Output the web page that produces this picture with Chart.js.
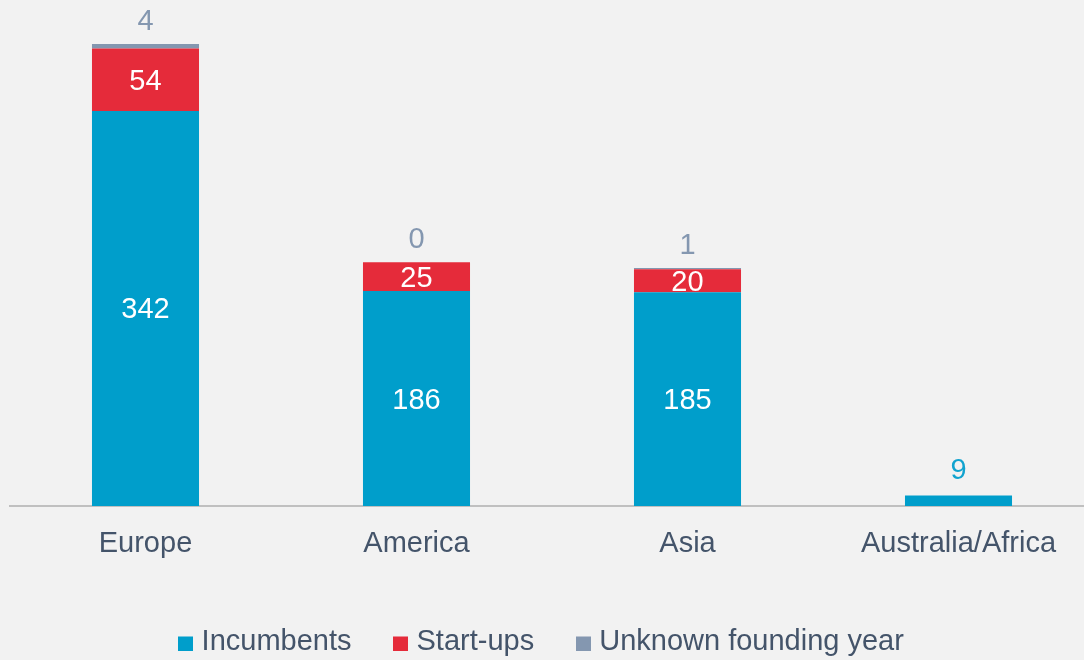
<!DOCTYPE html>
<html>
<head>
<meta charset="utf-8">
<title>Founders by region</title>
<script src="https://cdn.jsdelivr.net/npm/chart.js@4"></script>
<style>
  html, body { margin: 0; padding: 0; background: #f2f2f2; overflow: hidden; }
  /* canvas is a bit wider than the window so the plot runs to the edge */
  #wrap { position: absolute; left: -6px; top: 0; width: 1100px; height: 666px; }
</style>
</head>
<body>
<div id="wrap"><canvas id="chart" width="1100" height="666"></canvas></div>
<script>
// ── data ─────────────────────────────────────────────
var regions = ['Europe', 'America', 'Asia', 'Australia/Africa'];
var incumbents = [342, 186, 185, 9];
var startups = [54, 25, 20, null];
var unknownYear = [4, 0, 1, null];

var FONT = '"Liberation Sans", Arial, sans-serif';
var TEXT = '#44546a';

// small square legend swatch, sitting a little low like a bullet
function swatch(color) {
  var c = document.createElement('canvas');
  c.width = 15;
  c.height = 18;
  var g = c.getContext('2d');
  g.fillStyle = color;
  g.fillRect(0, 4, 15, 14);
  return c;
}

// value labels: white inside tall segments, coloured above short ones / the top series
var valueLabels = {
  id: 'valueLabels',
  afterDatasetsDraw: function(chart) {
    var ctx = chart.ctx;
    ctx.save();
    ctx.font = '29px ' + FONT;
    ctx.textAlign = 'center';
    ctx.textBaseline = 'middle';
    chart.data.datasets.forEach(function(ds, i) {
      var meta = chart.getDatasetMeta(i);
      meta.data.forEach(function(bar, j) {
        var v = ds.data[j];
        if (v === null || v === undefined) return;
        var h = Math.abs(bar.base - bar.y);
        if (ds.labelOutside) {
          ctx.fillStyle = ds.labelColor;
          ctx.fillText(String(v), bar.x, bar.y - 22);
        } else if (h < 20) {
          ctx.fillStyle = ds.labelColor;
          ctx.fillText(String(v), bar.x, bar.y - 25);
        } else {
          ctx.fillStyle = '#ffffff';
          ctx.fillText(String(v), bar.x, (bar.y + bar.base) / 2 + 2);
        }
      });
    });
    ctx.restore();
  }
};

new Chart(document.getElementById('chart'), {
  type: 'bar',
  data: {
    labels: regions,
    datasets: [
      { label: 'Incumbents', data: incumbents, backgroundColor: '#009ecb', labelColor: '#11a3cf' },
      { label: 'Start-ups', data: startups, backgroundColor: '#e52b3a', labelColor: '#e52b3a' },
      { label: 'Unknown founding year', data: unknownYear, backgroundColor: '#8497b0', labelColor: '#8497b0', labelOutside: true }
    ]
  },
  options: {
    responsive: false,
    animation: false,
    devicePixelRatio: 1,
    layout: { padding: 0 },
    datasets: { bar: { categoryPercentage: 1, barPercentage: 0.395 } },
    plugins: {
      tooltip: { enabled: false },
      legend: {
        position: 'bottom',
        labels: {
          usePointStyle: true,
          pointStyleWidth: 3,
          padding: 47.5,
          color: TEXT,
          font: { family: FONT, size: 29 },
          generateLabels: function(chart) {
            var items = Chart.defaults.plugins.legend.labels.generateLabels(chart);
            items.forEach(function(it, i) {
              it.pointStyle = swatch(chart.data.datasets[i].backgroundColor);
            });
            return items;
          }
        }
      }
    },
    scales: {
      x: {
        stacked: true,
        grid: { display: false, drawTicks: false },
        border: { display: true, color: '#c0c0c0', width: 2 },
        ticks: { color: TEXT, padding: 21, font: { family: FONT, size: 29 } },
        afterFit: function(scale) { scale.height = 73.5; }
      },
      y: {
        stacked: true,
        min: 0,
        max: 438,
        grid: { display: false },
        border: { display: false },
        ticks: { display: false },
        afterFit: function(scale) { scale.width = 16; }
      }
    }
  },
  plugins: [valueLabels]
});
</script>
</body>
</html>
